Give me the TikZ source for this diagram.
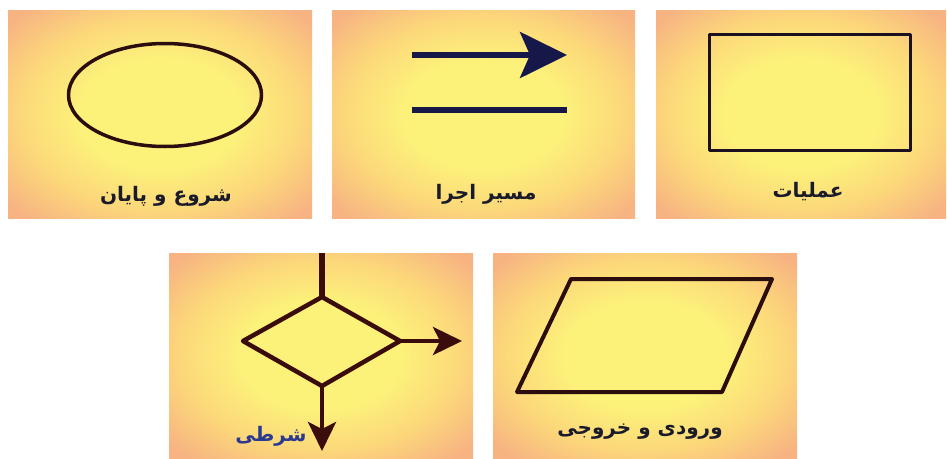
\documentclass[tikz,border=0pt]{standalone}
\usepackage{fontspec}
\newfontfamily\arabicfont[Script=Arabic]{DejaVu Sans}
\TeXXeTstate=1
\usetikzlibrary{shapes.geometric,arrows.meta}
\definecolor{bgY}{HTML}{FCF27A}
\definecolor{bgM}{HTML}{FCD87A}
\definecolor{bgO}{HTML}{F7B482}
\definecolor{ellc}{HTML}{2B0D0D}
\definecolor{rectc}{HTML}{1A1020}
\definecolor{navyc}{HTML}{16184A}
\definecolor{condc}{HTML}{3B0C0C}
\definecolor{labelc}{HTML}{1A1A2A}
\definecolor{bluec}{HTML}{2B3990}
\pgfdeclareradialshading{panelshade}{\pgfpoint{0bp}{0bp}}{color(0bp)=(bgY); color(13bp)=(bgY); color(23bp)=(bgM); color(33bp)=(bgO); color(50bp)=(bgO)}
\begin{document}
\begin{tikzpicture}[x=1pt,y=-1pt,
  panelbg/.style={shading=panelshade},
  lbl/.style={font=\arabicfont\bfseries\fontsize{20}{24}\selectfont, text=labelc, inner sep=0},
  shapeline/.style={line width=3.5pt, line join=round},
  condline/.style={draw=condc, line width=4.5pt, line join=round},
  condarrow/.style={condline, -{Stealth[length=29pt, width=28pt, inset=7pt]}},
  navyarrow/.style={draw=navyc, line width=5.5pt, -{Stealth[length=47pt, width=46pt, inset=10pt]}}
]
\useasboundingbox (0,0) rectangle (947,458);
\fill[white] (0,0) rectangle (947,458);
% panels
\shade[panelbg] (8,10) rectangle (312,218);
\shade[panelbg] (332,10) rectangle (635,218);
\shade[panelbg] (656,10) rectangle (946,218);
\shade[panelbg] (169,253) rectangle (473,458);
\shade[panelbg] (493,253) rectangle (797,458);
% panel 1: terminal
\node[ellipse, draw=ellc, shapeline, minimum width=193pt, minimum height=103pt, inner sep=0] (start) at (165,95) {};
\node[lbl] (startlbl) at (166,196) {\beginR شروع و پایان\endR};
% panel 2: flow lines
\coordinate (f1a) at (412,55);
\coordinate (f1b) at (567,55);
\coordinate (f2a) at (412,110);
\coordinate (f2b) at (567,110);
\draw[navyarrow] (f1a) -- (f1b);
\draw[draw=navyc, line width=5.5pt] (f2a) -- (f2b);
\node[lbl] (flowlbl) at (486,194) {\beginR مسیر اجرا\endR};
% panel 3: process
\node[rectangle, draw=rectc, shapeline, minimum width=201pt, minimum height=116pt, inner sep=0] (proc) at (810,92.5) {};
\node[lbl] (proclbl) at (808,192) {\beginR عملیات\endR};
% panel 4: decision
\coordinate (dT) at (322,297);
\coordinate (dR) at (400,341);
\coordinate (dB) at (322,386);
\coordinate (dL) at (243,341);
\coordinate (ctop) at (322,253);
\coordinate (cright) at (462,341);
\coordinate (cdown) at (322,451);
\draw[condline] (dT) -- (dR) -- (dB) -- (dL) -- cycle;
\draw[condline, line width=5.5pt] (ctop) -- (dT);
\draw[condarrow] (dR) -- (cright);
\draw[condarrow] (dB) -- (cdown);
\node[lbl, text=bluec] (condlbl) at (271,436) {\beginR شرطی\endR};
% panel 5: input/output
\coordinate (pTL) at (571,279);
\coordinate (pTR) at (772,279);
\coordinate (pBR) at (722,392);
\coordinate (pBL) at (517,392);
\draw[draw=ellc, line width=4pt, line join=round] (pTL) -- (pTR) -- (pBR) -- (pBL) -- cycle;
\node[lbl] (iolbl) at (640,432) {\beginR ورودی و خروجی\endR};
\end{tikzpicture}
\end{document}
